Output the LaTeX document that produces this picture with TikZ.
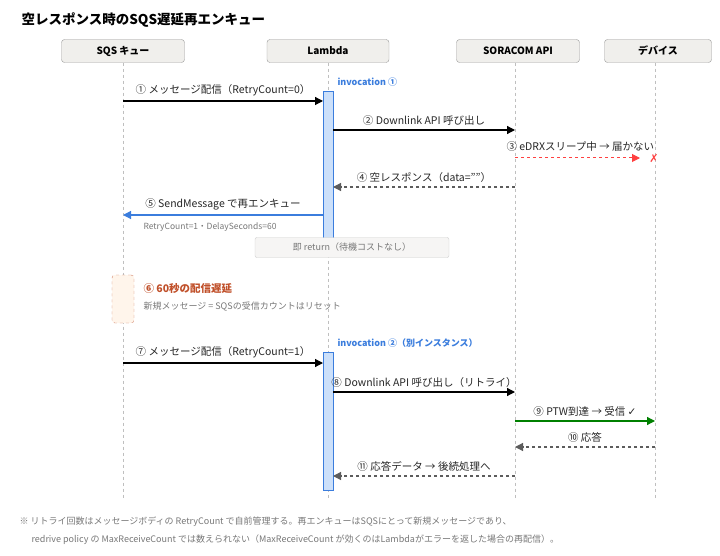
\documentclass[tikz,border=0pt]{standalone}
\usepackage{fontspec}
\setmainfont{Noto Sans CJK JP}
\newfontfamily\symf{DejaVu Sans}
\usetikzlibrary{positioning,arrows.meta}

\definecolor{hdrfill}{HTML}{F0EFEC}
\definecolor{actblue}{HTML}{CCE0FA}
\definecolor{invblue}{HTML}{3B7DDD}
\definecolor{delayred}{HTML}{C0502A}
\definecolor{txtgray}{HTML}{777777}

\tikzset{
  head/.style={draw=gray!80, fill=hdrfill, rounded corners=3pt, minimum height=23pt, font=\fontsize{10}{12}\selectfont\bfseries},
  life/.style={gray!50, dashed, thin},
  act/.style={draw=invblue, fill=actblue, minimum width=10pt, inner sep=0pt},
  msg/.style={-{Triangle[length=8pt,width=8pt]}, line width=1.2pt},
  ret/.style={msg, dashed, gray!30!black!75},
  lbl/.style={font=\fontsize{10.5}{12}\selectfont, text=black!85, above=1pt},
  note/.style={font=\fontsize{9}{11}\selectfont, text=txtgray, anchor=west}
}

\begin{document}
\begin{tikzpicture}[x=1pt, y=-1pt]
  \useasboundingbox (0,0) rectangle (720,556);

  % Title
  \node [anchor=west, font=\fontsize{13.5}{15}\selectfont\bfseries] (title) at (18,20) {空レスポンス時のSQS遅延再エンキュー};

  % Participants
  \node (sqs) [head, minimum width=123pt] at (123,51) {SQS キュー};
  \node (lam) [head, minimum width=122pt] at (328,51) {Lambda};
  \node (api) [head, minimum width=123pt] at (518,51) {SORACOM API};
  \node (dev) [head, minimum width=107pt] at (658,51) {デバイス};

  % Lifelines
  \foreach \n/\x in {sqs/123, lam/328, api/515, dev/655}
    \draw [life] (\n.south -| \x,0) -- (\x,498);

  % Activations
  \node (actA) [act, minimum height=149pt] at (328,165.5) {};
  \node (actB) [act, minimum height=138pt] at (328,421) {};
  \node [anchor=south west, font=\fontsize{9}{10}\selectfont\bfseries, text=invblue] at (334,90) {invocation ①};
  \node [anchor=south west, font=\fontsize{9}{10}\selectfont\bfseries, text=invblue] at (334,351) {invocation ②（別インスタンス）};

  % Invocation 1
  \coordinate (s1) at (123,101); \coordinate (l1) at (323,101);
  \draw [msg] (s1) -- node [lbl] {① メッセージ配信（RetryCount=0）} (l1);
  \coordinate (l2) at (333,130); \coordinate (a2) at (515,130);
  \draw [msg] (l2) -- node [lbl] {② Downlink API 呼び出し} (a2);
  \coordinate (a3) at (515,158); \coordinate (d3) at (640,158);
  \draw [msg, dashed, red!75, line width=1pt] (a3) -- (d3);
  \node [lbl, anchor=south west] at (503,156) {③ eDRXスリープ中 → 届かない};
  \node [text=red!75, font=\symf\fontsize{11}{12}\selectfont] (xmark) at (654,159) {✗};
  \coordinate (a4) at (515,187); \coordinate (l4) at (333,187);
  \draw [ret] (a4) -- node [lbl] {④ 空レスポンス（data=""）} (l4);
  \coordinate (l5) at (323,215); \coordinate (s5) at (123,215);
  \draw [msg, invblue] (l5) -- node [lbl] {⑤ SendMessage で再エンキュー} (s5);
  \node [note, font=\fontsize{8.5}{10}\selectfont] at (140,227) {RetryCount=1・DelaySeconds=60};
  \node (rtn) [draw=gray!40, fill=hdrfill!60, rounded corners=2pt, minimum width=194pt, minimum height=20pt,
               font=\fontsize{9}{10}\selectfont, text=txtgray] at (352,247.5) {即 return（待機コストなし）};

  % Delay
  \node (delay) [draw=delayred!70, dashed, fill=orange!8, rounded corners=3pt, minimum width=22pt, minimum height=48pt] at (123,299) {};
  \node [anchor=west, font=\fontsize{10.5}{12}\selectfont\bfseries, text=delayred] at (140,289) {⑥ 60秒の配信遅延};
  \node [note] at (140,307) {新規メッセージ = SQSの受信カウントはリセット};

  % Invocation 2
  \coordinate (s7) at (123,363); \coordinate (l7) at (323,363);
  \draw [msg] (s7) -- node [lbl] {⑦ メッセージ配信（RetryCount=1）} (l7);
  \coordinate (l8) at (333,392); \coordinate (a8) at (515,392);
  \draw [msg] (l8) -- node [lbl] {⑧ Downlink API 呼び出し（リトライ）} (a8);
  \coordinate (a9) at (515,421); \coordinate (d9) at (655,421);
  \draw [msg, green!50!black] (a9) -- node [lbl] {⑨ PTW到達 → 受信 {\symf ✓}} (d9);
  \coordinate (d10) at (655,447); \coordinate (a10) at (515,447);
  \draw [ret] (d10) -- node [lbl] {⑩ 応答} (a10);
  \coordinate (a11) at (515,476); \coordinate (l11) at (333,476);
  \draw [ret] (a11) -- node [lbl] {⑪ 応答データ → 後続処理へ} (l11);

  % Footnote
  \node [note] at (16,522) {※ リトライ回数はメッセージボディの RetryCount で自前管理する。再エンキューはSQSにとって新規メッセージであり、};
  \node [note] at (28,540) {redrive policy の MaxReceiveCount では数えられない（MaxReceiveCount が効くのはLambdaがエラーを返した場合の再配信）。};
\end{tikzpicture}
\end{document}
